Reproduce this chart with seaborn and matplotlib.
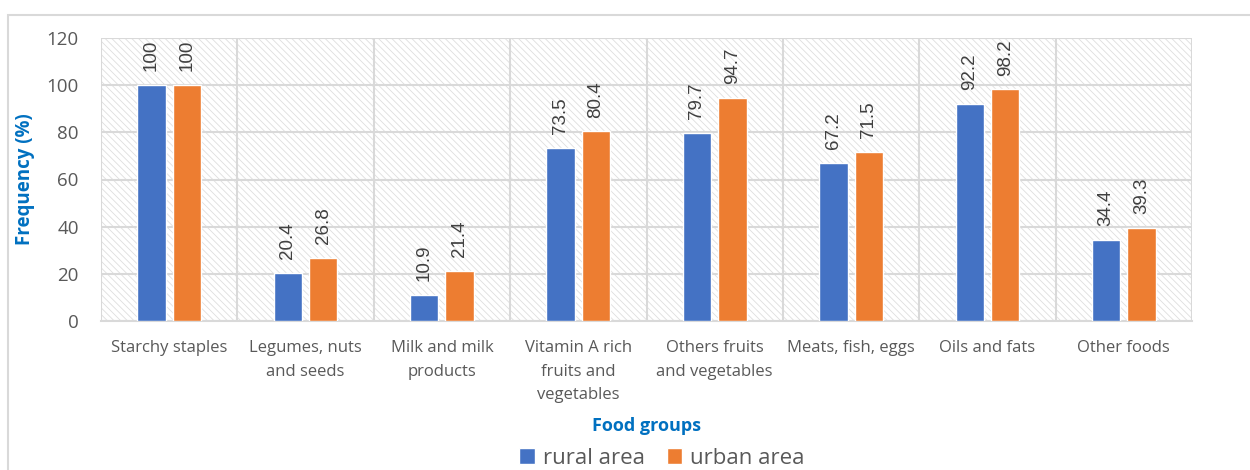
import matplotlib
matplotlib.use("Agg")
import matplotlib.pyplot as plt
from matplotlib.patches import Rectangle
from matplotlib.ticker import FixedLocator, NullFormatter
import seaborn as sns
import pandas as pd

categories = [
    "Starchy staples",
    "Legumes, nuts\nand seeds",
    "Milk and milk\nproducts",
    "Vitamin A rich\nfruits and\nvegetables",
    "Others fruits\nand vegetables",
    "Meats, fish, eggs",
    "Oils and fats",
    "Other foods",
]
rural = [100, 20.4, 10.9, 73.5, 79.7, 67.2, 92.2, 34.4]
urban = [100, 26.8, 21.4, 80.4, 94.7, 71.5, 98.2, 39.3]
series_names = ["rural area", "urban area"]
y_ticks = [0, 20, 40, 60, 80, 100, 120]

df = pd.DataFrame({
    "group": categories * 2,
    "area": [series_names[0]] * len(categories) + [series_names[1]] * len(categories),
    "value": rural + urban,
})

sns.set_theme(style="white")
plt.rcParams["font.family"] = ["Open Sans", "DejaVu Sans"]
plt.rcParams["hatch.color"] = "#dedede"
plt.rcParams["hatch.linewidth"] = 0.6

GRID = "#d9d9d9"
TEXT = "#595959"
TITLE = "#0070C0"
palette = {series_names[0]: "#4472C4", series_names[1]: "#ED7D31"}

fig = plt.figure(figsize=(12.5, 4.7), dpi=100)
fig.patch.set_facecolor("white")
# outer chart frame
fig.add_artist(Rectangle((8 / 1250, -0.01), 1.02, 1 - 15 / 470 + 0.01,
                         transform=fig.transFigure, fill=False,
                         edgecolor="#d9d9d9", linewidth=1.5))

ax = fig.add_axes([101 / 1250, 1 - 321 / 470, (1192 - 101) / 1250, (321 - 38) / 470])
ax.patch.set_facecolor("white")
ax.patch.set_hatch("\\\\\\\\\\")
ax.patch.set_edgecolor("#dedede")

sns.barplot(data=df, x="group", y="value", hue="area", palette=palette,
            width=0.52, gap=0.2, saturation=1, ax=ax, legend=True, zorder=3)

ax.set_ylim(0, 120)
ax.set_xlim(-0.5, len(categories) - 0.5)
ax.set_yticks(y_ticks)
ax.set_yticklabels([str(t) for t in y_ticks], fontsize=13.5, color=TEXT)
ax.tick_params(axis="y", length=0, pad=16)

# category separators as minor ticks and vertical gridlines
ax.xaxis.set_minor_locator(FixedLocator([i - 0.5 for i in range(len(categories) + 1)]))
ax.xaxis.set_minor_formatter(NullFormatter())
ax.tick_params(axis="x", which="major", length=0, pad=14, labelsize=12, labelcolor=TEXT)
ax.tick_params(axis="x", which="minor", length=7, width=1.5, color=GRID)
for lab in ax.get_xticklabels():
    lab.set_linespacing(1.6)
ax.grid(True, axis="y", which="major", color=GRID, linewidth=1.5, zorder=0)
ax.grid(True, axis="x", which="minor", color=GRID, linewidth=1.5, zorder=0)
ax.grid(False, axis="x", which="major")
ax.set_axisbelow(True)
for side in ["left", "right", "top"]:
    ax.spines[side].set_visible(False)
ax.spines["bottom"].set_color(GRID)
ax.spines["bottom"].set_linewidth(1.5)

for container in ax.containers:
    ax.bar_label(container, labels=[f"{v:g}" for v in container.datavalues],
                 rotation=90, padding=10, fontsize=13.5, color="#404040",
                 family=["Liberation Sans"])

ax.set_xlabel("Food groups", fontsize=13, fontweight="bold", color=TITLE, labelpad=10)
ax.set_ylabel("Frequency (%)", fontsize=13.5, fontweight="bold", color=TITLE, labelpad=8)

handles, labels = ax.get_legend_handles_labels()
ax.get_legend().remove()
fig.legend(handles, labels, loc="center", bbox_to_anchor=(662 / 1250, 1 - 458 / 470),
           ncol=2, frameon=False, fontsize=16, labelcolor=TEXT,
           handlelength=0.7, handleheight=0.7, handletextpad=0.35, columnspacing=1.0)

fig.savefig("out.png", dpi=100, facecolor="white")
